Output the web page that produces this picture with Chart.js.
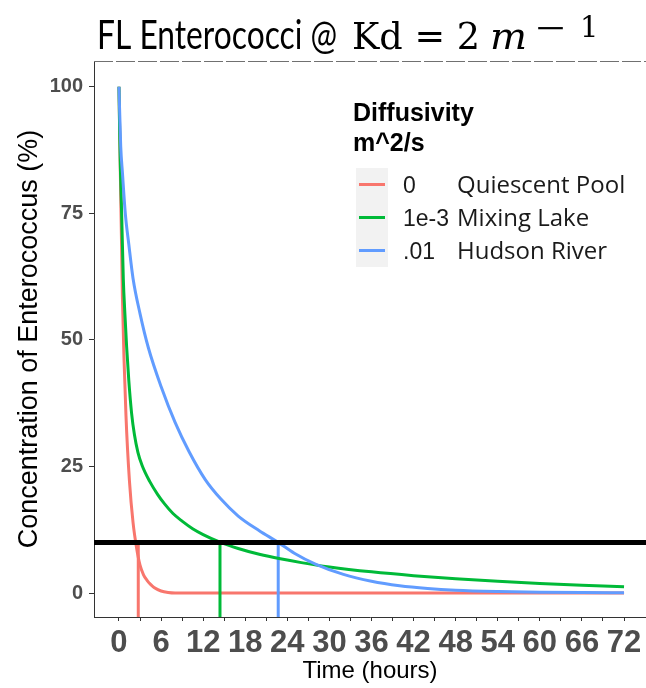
<!DOCTYPE html>
<html>
<head>
<meta charset="utf-8">
<script src="https://cdn.jsdelivr.net/npm/chart.js@4/dist/chart.umd.min.js"></script>
<style>
  html, body { margin: 0; padding: 0; background: #ffffff; }
  #wrap { position: relative; width: 646px; height: 688px; }
</style>
</head>
<body>
<div id="wrap"><canvas id="c" width="646" height="688"></canvas></div>
<script>
// ---------------- DATA ----------------
const titleMain = "FL Enterococci @";
const titleKd = "Kd = 2";
const titleUnit = "m";
const titleMinus = "\u2212";
const titleOne = "1";

const xAxisTitle = "Time (hours)";
const yAxisTitle = "Concentration of Enterococcus (%)";
const legendTitle = ["Diffusivity", "m^2/s"];
const diffusivityLabels = ["0", "1e-3", ".01"];
const waterBodies = ["Quiescent Pool", "Mixing Lake", "Hudson River"];
const seriesColors = ["#F8766D", "#00BA38", "#619CFF"];

const xTickLabels = [0, 6, 12, 18, 24, 30, 36, 42, 48, 54, 60, 66, 72];
const xMinorTicks = [3, 9, 15, 21, 27, 33, 39, 45, 51, 57, 63, 69];
const yTickLabels = [0, 25, 50, 75, 100];

// Quiescent Pool (D = 0)
const hoursPool = [0, 0.5, 1, 1.5, 2, 2.5, 3, 3.5, 4, 4.5, 5, 6, 7, 8, 72];
const concPool  = [100, 58, 35, 22, 14, 9, 5.5, 3.6, 2.5, 1.7, 1.1, 0.4, 0.1, 0, 0];

// Mixing Lake (D = 1e-3)
const hoursLake = [0, 0.1, 0.2, 0.38, 0.62, 0.85, 1.09, 1.4, 1.8, 2.2, 2.7, 3.3, 4.4, 5.5, 6.5, 7.7, 9, 10.5, 12, 14.4, 17, 20, 23, 26, 30, 36, 42, 48, 54, 60, 66, 72];
const concLake  = [100, 91, 84, 75, 62, 55, 48.7, 42, 35.5, 31.3, 27.8, 25.2, 22.0, 19.5, 17.6, 15.7, 14.2, 12.7, 11.55, 10.05, 8.8, 7.65, 6.75, 6.0, 5.15, 4.18, 3.43, 2.83, 2.32, 1.9, 1.55, 1.25];

// Hudson River (D = .01)
const hoursRiver = [0, 0.25, 0.5, 0.9, 1.4, 2, 3, 4.2, 6, 8, 10, 12.3, 14.5, 17, 20, 22.7, 25, 28, 32, 36, 40, 44, 48, 54, 60, 66, 72];
const concRiver  = [100, 88.2, 82.9, 75, 68.9, 62.2, 55.2, 48.4, 40.8, 33.7, 27.9, 22.4, 18.6, 15.2, 12.3, 10, 7.85, 5.7, 3.67, 2.32, 1.44, 0.9, 0.56, 0.3, 0.16, 0.08, 0.04];

// threshold and the times each series reaches it
const threshold = 10;
const thresholdTimes = [2.75, 14.4, 22.7];

// axis ranges
const xMin = -3.56, xMax = 75.13;
const yMin = -4.74, yMax = 105.1;

// ---------------- BUILD ----------------
const toPts = (xs, ys) => xs.map((x, i) => ({ x: x, y: ys[i] }));
const curveSets = [toPts(hoursPool, concPool), toPts(hoursLake, concLake), toPts(hoursRiver, concRiver)];

const datasets = [];
curveSets.forEach((pts, i) => {
  datasets.push({
    label: diffusivityLabels[i] + " " + waterBodies[i],
    data: pts,
    showLine: true,
    borderColor: seriesColors[i],
    backgroundColor: seriesColors[i],
    borderWidth: 3,
    pointRadius: 0,
    cubicInterpolationMode: "monotone",
    order: 3 - i
  });
});
thresholdTimes.forEach((t, i) => {
  datasets.push({
    label: "cross " + waterBodies[i],
    data: [{ x: t, y: yMin }, { x: t, y: threshold }],
    showLine: true,
    borderColor: seriesColors[i],
    borderWidth: 3,
    pointRadius: 0,
    order: 2
  });
});
datasets.push({
  label: "threshold",
  data: [{ x: xMin, y: threshold }, { x: xMax, y: threshold }],
  showLine: true,
  borderColor: "#000000",
  borderWidth: 5,
  pointRadius: 0,
  order: 0
});

const sansFont = "'Liberation Sans', Arial, sans-serif";

function fitText(ctx, text, x, y, targetW) {
  const w = ctx.measureText(text).width;
  ctx.save();
  ctx.translate(x, y);
  ctx.scale(targetW / w, 1);
  ctx.fillText(text, 0, 0);
  ctx.restore();
}

const titlePlugin = {
  id: "mixedTitle",
  afterDraw(chart) {
    const ctx = chart.ctx;
    ctx.save();
    ctx.fillStyle = "#000";
    ctx.textBaseline = "alphabetic";
    ctx.textAlign = "left";
    const base = 49;
    ctx.font = "40px Lato, 'Open Sans', sans-serif";
    fitText(ctx, titleMain, 97, base, 240);
    ctx.font = "38px 'DejaVu Serif', serif";
    fitText(ctx, titleKd, 352, base, 128);
    ctx.font = "italic 38px 'DejaVu Serif', serif";
    fitText(ctx, titleUnit, 490, base, 37);
    ctx.font = "28px 'DejaVu Serif', serif";
    fitText(ctx, titleMinus, 534, base - 12, 33);
    ctx.font = "29px 'DejaVu Serif', serif";
    ctx.fillText(titleOne, 580, base - 12);
    ctx.restore();
  }
};

const framePlugin = {
  id: "topFrame",
  afterDraw(chart) {
    const ctx = chart.ctx, a = chart.chartArea;
    ctx.save();
    ctx.strokeStyle = "#707070";
    ctx.lineWidth = 1;
    ctx.setLineDash([19, 3]);
    ctx.beginPath();
    ctx.moveTo(a.left, a.top + 0.5);
    ctx.lineTo(chart.width, a.top + 0.5);
    ctx.stroke();
    ctx.restore();
  }
};

const legendPlugin = {
  id: "customLegend",
  afterDraw(chart) {
    const ctx = chart.ctx;
    ctx.save();
    ctx.fillStyle = "#000";
    ctx.textAlign = "left";
    ctx.textBaseline = "alphabetic";
    ctx.font = "bold 25px " + sansFont;
    ctx.fillText(legendTitle[0], 353, 121);
    ctx.fillText(legendTitle[1], 353, 151);
    const rowTop = [168, 201, 234];
    for (let i = 0; i < 3; i++) {
      ctx.fillStyle = "#F2F2F2";
      ctx.fillRect(356, rowTop[i], 32, 33);
      ctx.strokeStyle = seriesColors[i];
      ctx.lineWidth = 3;
      ctx.beginPath();
      ctx.moveTo(359, rowTop[i] + 16.5);
      ctx.lineTo(385, rowTop[i] + 16.5);
      ctx.stroke();
      ctx.fillStyle = "#1A1A1A";
      ctx.font = "23px " + sansFont;
      ctx.fillText(diffusivityLabels[i], 403, rowTop[i] + 25);
      ctx.font = "24px 'Open Sans', sans-serif";
      ctx.fillText(waterBodies[i], 457, rowTop[i] + 25);
    }
    ctx.restore();
  }
};

new Chart(document.getElementById("c"), {
  type: "scatter",
  data: { datasets: datasets },
  plugins: [titlePlugin, framePlugin, legendPlugin],
  options: {
    responsive: false,
    devicePixelRatio: 1,
    animation: false,
    layout: { padding: { top: 61, left: 0, right: 0, bottom: 0 } },
    plugins: { legend: { display: false }, title: { display: false }, tooltip: { enabled: false } },
    scales: {
      x: {
        type: "linear",
        min: xMin, max: xMax,
        afterBuildTicks(scale) {
          scale.ticks = xTickLabels.concat(xMinorTicks).sort((a, b) => a - b).map(v => ({ value: v }));
        },
        afterFit(scale) { scale.height = 71; },
        grid: { display: true, drawOnChartArea: false, drawTicks: true, tickLength: 4, color: "#333333", lineWidth: 1 },
        border: { display: true, color: "#333333", width: 1 },
        ticks: {
          autoSkip: false, maxRotation: 0, padding: 4,
          color: "#4D4D4D",
          font: { family: sansFont, size: 31, weight: "bold" },
          callback: (v) => xTickLabels.includes(v) ? String(v) : ""
        },
        title: {
          display: true, text: xAxisTitle, color: "#000",
          font: { family: sansFont, size: 24 }, padding: { top: 0, bottom: 2 }
        }
      },
      y: {
        type: "linear",
        min: yMin, max: yMax,
        afterBuildTicks(scale) { scale.ticks = yTickLabels.map(v => ({ value: v })); },
        afterFit(scale) { scale.width = 94; },
        grid: { display: true, drawOnChartArea: false, drawTicks: true, tickLength: 5, color: "#333333", lineWidth: 1 },
        border: { display: true, color: "#333333", width: 1 },
        ticks: {
          padding: 6, color: "#4D4D4D",
          font: { family: sansFont, size: 20, weight: "bold" }
        },
        title: {
          display: true, text: yAxisTitle, color: "#000",
          font: { family: sansFont, size: 27 }, padding: { top: 13, bottom: 0 }
        }
      }
    }
  }
});
</script>
</body>
</html>
